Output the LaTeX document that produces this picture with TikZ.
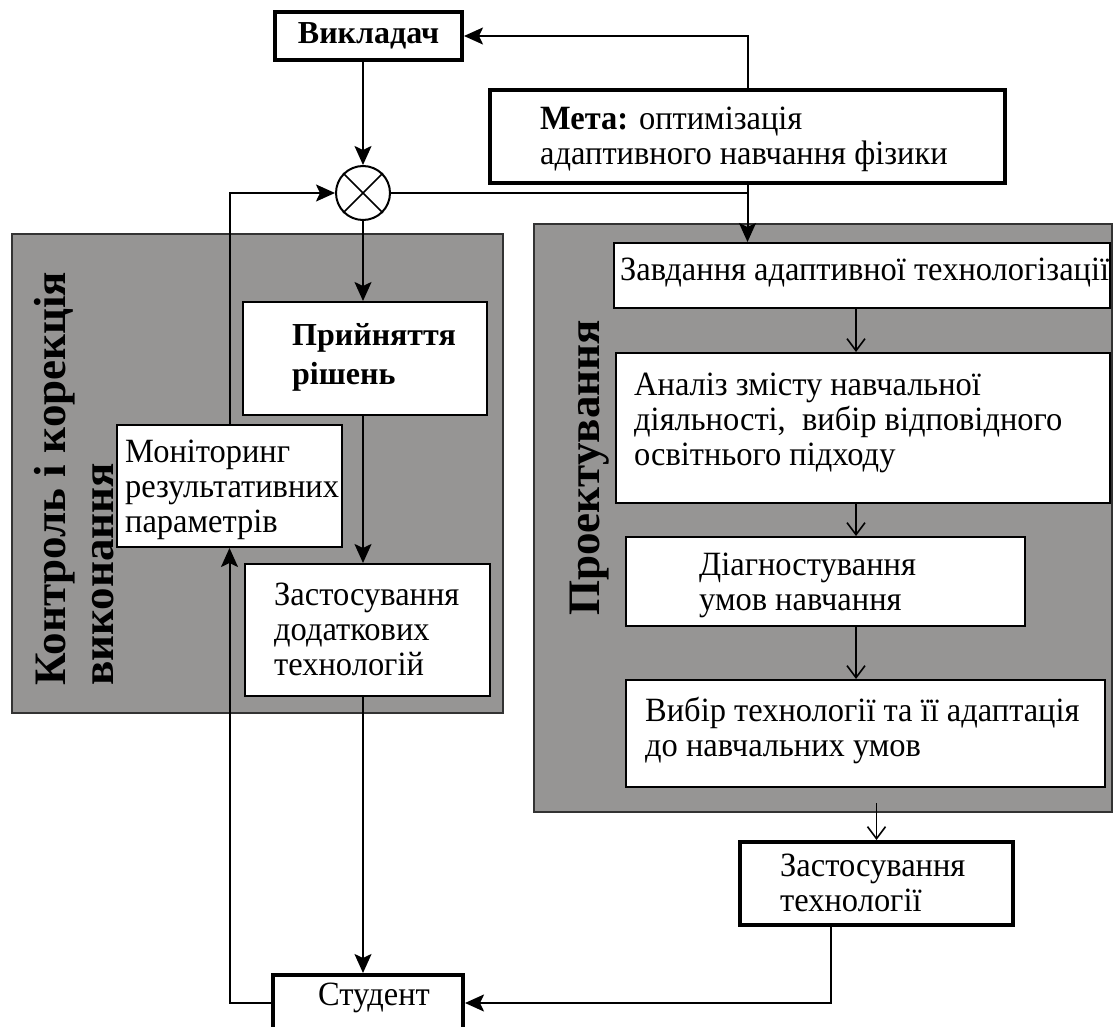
\documentclass[tikz,border=0pt]{standalone}
\usepackage{fontspec}
\setmainfont{Liberation Serif}
\newfontfamily\narrowserif{Liberation Serif}[FakeStretch=0.955]
\usetikzlibrary{arrows.meta}
\definecolor{panelgray}{RGB}{150,149,148}
\newcommand\regtext{\narrowserif\fontsize{34}{35}\selectfont}
\newcommand\boxbold{\fontsize{32}{39}\selectfont\bfseries}
\newcommand\sidebold{\fontsize{45}{48}\selectfont\bfseries}

\begin{document}
\begin{tikzpicture}[x=1pt,y=-1pt,
  panel/.style={draw=black!80, fill=panelgray, line width=1.5pt, inner sep=0pt},
  wbox/.style={draw, fill=white, line width=2pt, inner sep=0pt},
  hbox/.style={wbox, line width=4pt},
  txt/.style={inner sep=0pt, align=left, font=\regtext, anchor=west},
  sidelabel/.style={inner sep=0pt, align=left, font=\sidebold},
  link/.style={line width=2pt},
  arr/.style={line width=2pt, -{Stealth[length=19pt,width=17pt,inset=4pt]}},
  tarr/.style={line width=1.6pt, -{Straight Barb[length=12pt,width=18pt,line width=1.6pt]}}
]
\useasboundingbox (0,0) rectangle (1117,1027);

% grey stage panels
\node[panel, minimum width=491pt, minimum height=479pt] (ctrl) at (257.5,473.5) {};
\node[panel, minimum width=578pt, minimum height=588pt] (proj) at (823,518) {};

\node[sidelabel, rotate=90, anchor=west] (ctrl-lbl) at (74,686) {Контроль і корекція\\виконання};
\node[sidelabel, rotate=90] (proj-lbl) at (590,468) {Проектування};

% top: teacher, goal, summing junction
\node[hbox, minimum width=187pt, minimum height=48pt, font=\boxbold] (vykl) at (368.5,36) {Викладач};
\node[hbox, minimum width=515pt, minimum height=93pt] (meta) at (747.5,136.5) {};
\node[txt] (meta-t) at (540,139) {\textbf{Мета:} оптимізація\\адаптивного навчання фізики};
\node[draw, circle, fill=white, line width=2pt, minimum size=54pt, inner sep=0pt] (circ) at (363,193) {};
\draw[line width=1.5pt] (circ.north east) -- (circ.south west) (circ.north west) -- (circ.south east);

% control and correction
\node[wbox, minimum width=244pt, minimum height=113pt] (pry) at (365,358.5) {};
\node[txt, font=\boxbold] (pry-t) at (292,357.5) {Прийняття\\рішень};
\node[wbox, minimum width=225pt, minimum height=122pt] (mon) at (229.5,486) {};
\node[txt] (mon-t) at (125,490) {Моніторинг\\результативних\\параметрів};
\node[wbox, minimum width=245pt, minimum height=132pt] (zdod) at (367.5,630) {};
\node[txt] (zdod-t) at (274,629) {Застосування\\додаткових\\технологій};

% design
\node[wbox, minimum width=496pt, minimum height=65pt] (zav) at (862,275.5) {};
\node[txt] (zav-t) at (620,273) {Завдання адаптивної технологізації};
\node[wbox, minimum width=494pt, minimum height=150pt] (an) at (863,428) {};
\node[txt] (an-t) at (634,423) {Аналіз змісту навчальної\\діяльності,\ \ вибір відповідного\\освітнього підходу};
\node[wbox, minimum width=399pt, minimum height=89pt] (diag) at (825.5,581.5) {};
\node[txt] (diag-t) at (699,585.5) {Діагностування\\умов навчання};
\node[wbox, minimum width=479pt, minimum height=107pt] (vyb) at (865.5,733.5) {};
\node[txt] (vyb-t) at (645,730.5) {Вибір технології та її адаптація\\до навчальних умов};

% application and student
\node[hbox, minimum width=273pt, minimum height=83pt] (zt) at (876.5,883.5) {};
\node[txt] (zt-t) at (780,882.5) {Застосування\\технології};
\node[hbox, minimum width=190pt, minimum height=56pt] (stud) at (368,1003) {};
\node[inner sep=0pt, font=\regtext] (stud-t) at (374,998) {Студент};

% connectors
\draw[arr] (meta.north) |- (vykl.east);
\draw[arr] (vykl.south -| circ) -- (circ.north);
\draw[link] (circ.east) -- (circ.east -| meta.south);
\draw[arr] (meta.south) -- (meta.south |- zav.north);
\draw[arr] (circ.south) -- (circ.south |- pry.north);
\draw[arr] (circ |- pry.south) -- (circ |- zdod.north);
\draw[arr] (circ |- zdod.south) -- (circ |- stud.north);
\draw[arr] (stud.west) -| (mon.south);
\draw[arr] (mon.north) |- (circ.west);

\coordinate (rc) at (856,0);
\draw[tarr] (rc |- zav.south) -- (rc |- an.north);
\draw[tarr] (rc |- an.south) -- (rc |- diag.north);
\draw[tarr] (rc |- diag.south) -- (rc |- vyb.north);
\draw[tarr] ([yshift=-15pt]vyb.south -| zt.north) -- (zt.north);
\draw[arr] ([xshift=-46pt]zt.south) |- (stud.east);
\end{tikzpicture}
\end{document}
